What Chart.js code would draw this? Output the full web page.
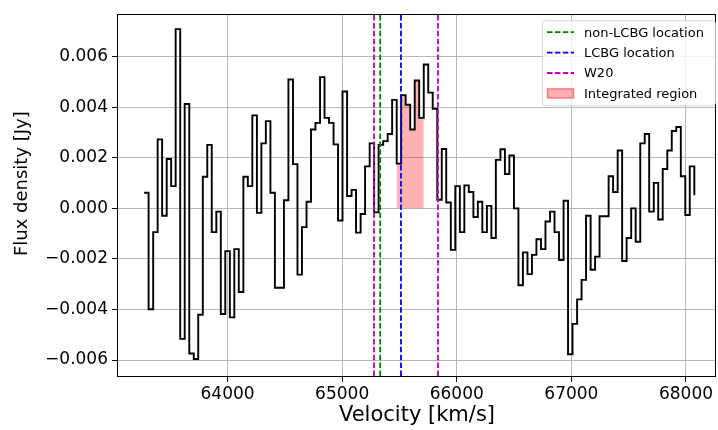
<!DOCTYPE html>
<html>
<head>
<meta charset="utf-8">
<script src="https://cdn.jsdelivr.net/npm/chart.js@4.4.0/dist/chart.umd.min.js"></script>
<style>
  html, body { margin: 0; padding: 0; background: #fff; }
</style>
</head>
<body>
<canvas id="spectrum" width="718" height="430"></canvas>
<script>
// channel velocities (km/s), left edge of each step
const velocity = [
  63272, 63311, 63351, 63390, 63429, 63469, 63508, 63547, 63587, 63626,
  63666, 63705, 63744, 63784, 63823, 63862, 63902, 63941, 63980, 64020,
  64059, 64098, 64138, 64177, 64216, 64256, 64295, 64334, 64374, 64413,
  64453, 64492, 64531, 64571, 64610, 64649, 64689, 64728, 64767, 64807,
  64846, 64885, 64925, 64964, 65003, 65043, 65082, 65121, 65161, 65200,
  65240, 65279, 65318, 65358, 65397, 65436, 65476, 65515, 65554, 65594,
  65633, 65672, 65712, 65751, 65790, 65830, 65869, 65908, 65948, 65987,
  66027, 66066, 66105, 66145, 66184, 66223, 66263, 66302, 66341, 66381,
  66420, 66459, 66499, 66538, 66577, 66617, 66656, 66695, 66735, 66774,
  66814, 66853, 66892, 66932, 66971, 67010, 67050, 67089, 67128, 67168,
  67207, 67246, 67286, 67325, 67364, 67404, 67443, 67482, 67522, 67561,
  67601, 67640, 67679, 67719, 67758, 67797, 67837, 67876, 67915, 67955,
  67994, 68033, 68073
];

// flux density (Jy)
const flux = [
  0.00062, -0.00399, -0.00094, 0.00273, -0.00029, 0.00195, 0.00088, 0.00709, -0.00516, 0.00413,
  -0.00574, -0.00596, -0.00421, 0.00125, 0.00251, -0.00094, -0.00013, -0.00418, -0.00169, -0.00431,
  -0.00161, -0.00331, 0.00125, 0.00088, 0.00368, -0.00018, 0.00257, 0.00345, 0.00062, -0.00314,
  -0.00314, 0.00032, 0.00510, 0.00175, -0.00262, -0.00074, 0.00026, 0.00312, 0.00338, 0.00519,
  0.00358, 0.00338, 0.00253, -0.00048, 0.00462, 0.00049, 0.00073, -0.00096, -0.00022, 0.00166,
  0.00257, -0.00016, 0.00251, 0.00266, 0.00294, 0.00429, 0.00177, 0.00448, 0.00410, 0.00312,
  0.00506, 0.00358, 0.00569, 0.00458, 0.00394, 0.00034, 0.00235, 0.00023, -0.00164, 0.00088,
  -0.00094, 0.00091, 0.00065, -0.00034, 0.00026, -0.00094, 0.00010, -0.00117, 0.00192, 0.00234,
  0.00136, 0.00209, 0.00000, -0.00304, -0.00174, -0.00260, -0.00184, -0.00122, -0.00161, -0.00052,
  -0.00013, -0.00094, -0.00204, 0.00030, -0.00577, -0.00457, -0.00360, -0.00283, -0.00029, -0.00243,
  -0.00191, -0.00031, -0.00031, 0.00127, 0.00065, 0.00229, -0.00208, -0.00117, 0.00000, -0.00132,
  0.00257, 0.00294, -0.00013, 0.00101, -0.00044, 0.00156, 0.00229, 0.00306, 0.00322, 0.00127,
  -0.00026, 0.00166, 0.00052
];

const xTicks = [64000, 65000, 66000, 67000, 68000];
const xTickLabels = ['64000', '65000', '66000', '67000', '68000'];
const yTicks = [-0.006, -0.004, -0.002, 0, 0.002, 0.004, 0.006];
const yTickLabels = ['\u22120.006', '\u22120.004', '\u22120.002', '0.000', '0.002', '0.004', '0.006'];

const nonLcbgVelocity = 65332;
const lcbgVelocity = 65513;
const w20Edges = [65278, 65836];
const integratedRange = [65476, 65712];

const xLimits = [63044, 68262];
const yLimits = [-0.00663, 0.00768];

const FONT = "'DejaVu Sans', sans-serif";

const spectrum = velocity.map((v, i) => ({ x: v, y: flux[i] }));
const integrated = spectrum.filter(p => p.x >= integratedRange[0] && p.x <= integratedRange[1]);

function vline(v) {
  return [{ x: v, y: yLimits[0] }, { x: v, y: yLimits[1] }];
}

const legendItems = [
  { label: 'non-LCBG location', color: '#008000' },
  { label: 'LCBG location', color: '#0000ff' },
  { label: 'W20', color: '#bf00bf' },
  { label: 'Integrated region', patch: 'rgba(255,0,0,0.3)' }
];

// top/right spines like matplotlib
const frame = {
  id: 'frame',
  afterDatasetsDraw(chart) {
    const { ctx, chartArea: a } = chart;
    ctx.save();
    ctx.strokeStyle = '#000';
    ctx.lineWidth = 1;
    ctx.strokeRect(Math.round(a.left) - 0.5, Math.round(a.top) + 0.5,
      Math.round(a.right - a.left), Math.round(a.bottom - a.top));
    ctx.restore();
  }
};

// legend box in the upper right corner of the axes
const insideLegend = {
  id: 'insideLegend',
  afterDraw(chart) {
    const { ctx, chartArea: a } = chart;
    const w = 173, h = 85;
    const x = a.right - w - 1, y = a.top + 6;
    ctx.save();
    ctx.beginPath();
    ctx.roundRect(x + 0.5, y + 0.5, w, h, 3);
    ctx.fillStyle = 'rgba(255,255,255,0.8)';
    ctx.fill();
    ctx.strokeStyle = 'rgba(204,204,204,0.8)';
    ctx.lineWidth = 1;
    ctx.stroke();

    ctx.font = '13px ' + FONT;
    ctx.textBaseline = 'middle';
    legendItems.forEach((item, i) => {
      const cy = y + 12 + i * 20.4;
      if (item.patch) {
        ctx.fillStyle = item.patch;
        ctx.fillRect(x + 5, cy - 5, 27, 10);
        ctx.strokeStyle = item.patch;
        ctx.strokeRect(x + 5.5, cy - 4.5, 26, 9);
      } else {
        ctx.beginPath();
        ctx.setLineDash([5.5, 2.4]);
        ctx.strokeStyle = item.color;
        ctx.lineWidth = 1.8;
        ctx.moveTo(x + 5, cy);
        ctx.lineTo(x + 32, cy);
        ctx.stroke();
        ctx.setLineDash([]);
      }
      ctx.fillStyle = '#000';
      ctx.fillText(item.label, x + 42, cy + 1);
    });
    ctx.restore();
  }
};

const dashed = { borderWidth: 1.8, borderDash: [5.5, 2.4], pointRadius: 0, order: 1 };

new Chart(document.getElementById('spectrum'), {
  type: 'line',
  data: {
    datasets: [
      {
        data: spectrum,
        borderColor: '#000',
        borderWidth: 1.9,
        stepped: 'before',
        pointRadius: 0,
        fill: false,
        order: 2
      },
      {
        data: integrated,
        borderWidth: 0,
        borderColor: 'rgba(0,0,0,0)',
        backgroundColor: 'rgba(255,0,0,0.3)',
        stepped: 'before',
        pointRadius: 0,
        fill: 'origin',
        order: 3
      },
      { ...dashed, data: vline(nonLcbgVelocity), borderColor: '#008000' },
      { ...dashed, data: vline(lcbgVelocity), borderColor: '#0000ff' },
      { ...dashed, data: vline(w20Edges[0]), borderColor: '#bf00bf' },
      { ...dashed, data: vline(w20Edges[1]), borderColor: '#bf00bf' }
    ]
  },
  options: {
    responsive: false,
    animation: false,
    layout: { padding: { top: 9, right: 2, left: 0, bottom: 0 } },
    plugins: {
      legend: { display: false },
      tooltip: { enabled: false }
    },
    scales: {
      x: {
        type: 'linear',
        min: xLimits[0],
        max: xLimits[1],
        afterBuildTicks: scale => { scale.ticks = xTicks.map(v => ({ value: v })); },
        afterFit: scale => { scale.height = 54; },
        border: { display: false },
        grid: { color: '#b0b0b0', lineWidth: 0.9, tickColor: '#000', tickLength: 6, tickWidth: 1 },
        ticks: {
          color: '#000',
          padding: 2,
          maxRotation: 0,
          font: { family: FONT, size: 17 },
          callback: (value, index) => xTickLabels[index]
        },
        title: {
          display: true,
          text: 'Velocity [km/s]',
          color: '#000',
          font: { family: FONT, size: 21 },
          padding: { top: 0, bottom: 2 }
        }
      },
      y: {
        type: 'linear',
        min: yLimits[0],
        max: yLimits[1],
        afterBuildTicks: scale => { scale.ticks = yTicks.map(v => ({ value: v })); },
        afterFit: scale => { scale.width = 118; },
        border: { display: false },
        grid: { color: '#b0b0b0', lineWidth: 0.9, tickColor: '#000', tickLength: 6, tickWidth: 1 },
        ticks: {
          color: '#000',
          padding: 4,
          font: { family: FONT, size: 17 },
          callback: (value, index) => yTickLabels[index]
        },
        title: {
          display: true,
          // leading spaces nudge the rotated label up, as in the original figure
          text: '    Flux density [Jy]',
          color: '#000',
          font: { family: FONT, size: 18 },
          padding: { top: 12, bottom: 0 }
        }
      }
    }
  },
  plugins: [frame, insideLegend]
});
</script>
</body>
</html>
